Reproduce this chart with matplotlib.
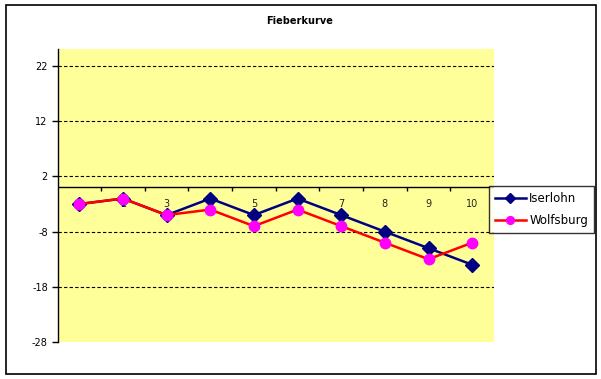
import matplotlib
matplotlib.use("Agg")
import matplotlib.pyplot as plt
from matplotlib.patches import Rectangle

categories = [1, 2, 3, 4, 5, 6, 7, 8, 9, 10]
iserlohn = [-3, -2, -5, -2, -5, -2, -5, -8, -11, -14]
wolfsburg = [-3, -2, -5, -4, -7, -4, -7, -10, -13, -10]
yticks = [-28, -18, -8, 2, 12, 22]
title = "Fieberkurve"

W, H = 601, 379
fig = plt.figure(figsize=(W / 100, H / 100), dpi=100)
fig.patch.set_facecolor("white")

L, R, T, B = 57.5, 494, 49, 342
ax = fig.add_axes([L / W, 1 - B / H, (R - L) / W, (B - T) / H])
ax.set_facecolor("#FFFF99")

x = list(range(1, len(categories) + 1))
ax.set_xlim(0.5, len(categories) + 0.5)
ax.set_ylim(-28, 25.1)

for yv in yticks[1:]:
    ax.axhline(yv, color="black", lw=0.8, ls=(0, (3, 2)), zorder=1)

ax.axhline(0, color="black", lw=1.0, zorder=2)
for b in range(1, len(categories)):
    ax.plot([b + 0.5, b + 0.5], [0, -0.7], color="black", lw=1.0, zorder=2,
            solid_capstyle="butt")

for xi, lab in zip(x, categories):
    ax.annotate(str(lab), (xi, 0), xytext=(0, -12), textcoords="offset points",
                ha="center", va="center", fontsize=7, color="#222222", zorder=3)

ax.plot(x, iserlohn, color="#000080", lw=1.8, marker="D", ms=7,
        mfc="#000080", mec="#000080", label="Iserlohn", zorder=4)
ax.plot(x, wolfsburg, color="#FF0000", lw=1.8, marker="o", ms=7.5,
        mfc="#FF00FF", mec="#FF00FF", label="Wolfsburg", zorder=5)

ax.set_xticks([])
ax.set_yticks(yticks)
ax.set_yticklabels([str(v) for v in yticks], fontsize=7)
ax.tick_params(axis="y", direction="out", length=4, width=1, pad=3, colors="black")
for s in ["top", "right", "bottom"]:
    ax.spines[s].set_visible(False)
ax.spines["left"].set_linewidth(1)

fig.text(300 / W, 1 - 21 / H, title, ha="center", va="center",
         fontsize=7, fontweight="bold")

leg = fig.legend(loc="upper left", bbox_to_anchor=(489 / W, 1 - 186 / H),
                 fontsize=8.5, frameon=True, fancybox=False, handlelength=2.6,
                 borderpad=0.5, labelspacing=0.75, handletextpad=0.3,
                 borderaxespad=0, markerscale=0.75)
leg.get_frame().set_edgecolor("black")
leg.get_frame().set_linewidth(1)

fig.add_artist(Rectangle((5.5 / W, 5 / H), 590 / W, 369 / H,
                         transform=fig.transFigure, fill=False,
                         edgecolor="black", lw=1.2))

fig.savefig("out.png", dpi=100)
